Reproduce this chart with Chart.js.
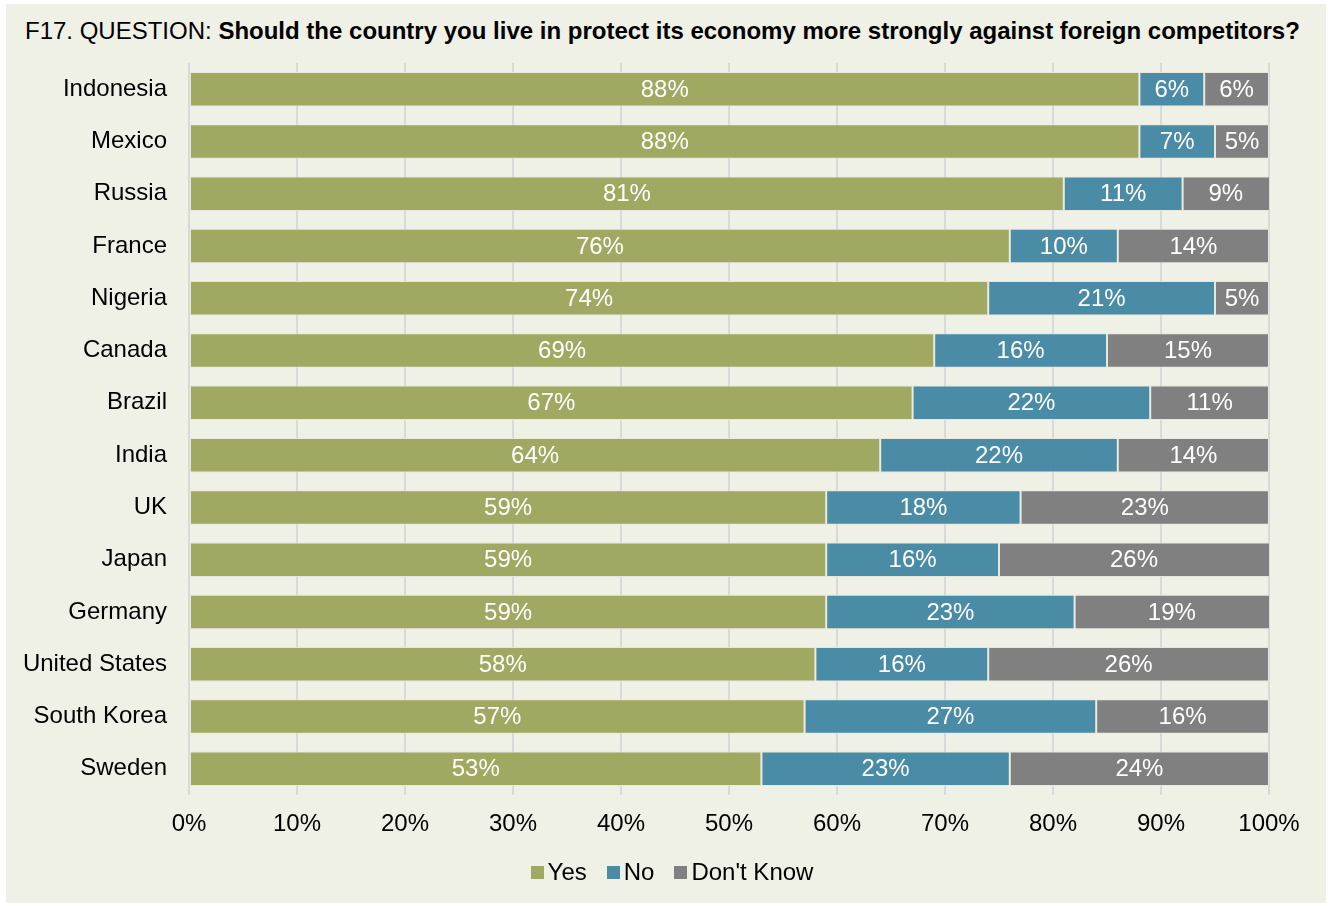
<!DOCTYPE html>
<html lang="en">
<head>
<meta charset="UTF-8">
<title>F17 - Protect economy against foreign competitors</title>
<script src="https://cdn.jsdelivr.net/npm/chart.js"></script>
<style>
  html, body { margin: 0; padding: 0; background: #ffffff; }
  body { width: 1332px; height: 906px; position: relative; overflow: hidden; font-family: "Liberation Sans", Arial, sans-serif; }
  .card { position: absolute; left: 6px; top: 4px; width: 1320px; height: 899px; background: #eff0e6; }
  .titulo { position: absolute; left: 19px; top: 13px; font-size: 24px; color: #000; white-space: nowrap; }
  .titulo b { font-weight: bold; }
  #grafico { position: absolute; left: 0; top: 0; }
  .leyenda { position: absolute; left: 12px; right: 0; top: 854px; text-align: center; font-size: 24px; color: #000; }
  .leyenda span { display: inline-block; margin: 0 10px; }
  .leyenda i { display: inline-block; width: 13px; height: 13px; margin-right: 4px; vertical-align: 1px; }
</style>
</head>
<body>
<div class="card">
  <div class="titulo">F17. QUESTION: <b>Should the country you live in protect its economy more strongly against foreign competitors?</b></div>
  <canvas id="grafico" width="1320" height="899"></canvas>
  <div class="leyenda" id="leyenda"></div>
</div>
<script>
const paises = ['Indonesia', 'Mexico', 'Russia', 'France', 'Nigeria', 'Canada', 'Brazil',
  'India', 'UK', 'Japan', 'Germany', 'United States', 'South Korea', 'Sweden'];
const si = [88, 88, 81, 76, 74, 69, 67, 64, 59, 59, 59, 58, 57, 53];
const no = [6, 7, 11, 10, 21, 16, 22, 22, 18, 16, 23, 16, 27, 23];
const noSabe = [6, 5, 9, 14, 5, 15, 11, 14, 23, 26, 19, 26, 16, 24];
const series = ['Yes', 'No', "Don't Know"];
const colores = ['#a1a862', '#4a8ba5', '#808080'];
const ticksX = [0, 10, 20, 30, 40, 50, 60, 70, 80, 90, 100];

const fuente = "'Liberation Sans', Arial, sans-serif";

// white percentage text centred in each segment
const etiquetas = {
  id: 'etiquetas',
  afterDatasetsDraw(chart) {
    const ctx = chart.ctx;
    const area = chart.chartArea;
    ctx.save();
    ctx.font = '24px ' + fuente;
    ctx.fillStyle = '#ffffff';
    ctx.textAlign = 'center';
    ctx.textBaseline = 'middle';
    chart.data.datasets.forEach((ds, i) => {
      chart.getDatasetMeta(i).data.forEach((bar, j) => {
        const x0 = Math.max(Math.min(bar.base, bar.x), area.left);
        const x1 = Math.min(Math.max(bar.base, bar.x), area.right);
        ctx.fillText(ds.data[j] + '%', (x0 + x1) / 2, bar.y + 1);
      });
    });
    ctx.restore();
  }
};

const datos = [si, no, noSabe];
new Chart(document.getElementById('grafico'), {
  type: 'bar',
  data: {
    labels: paises,
    datasets: datos.map((d, i) => ({
      label: series[i],
      data: d,
      backgroundColor: colores[i],
      borderColor: 'rgba(230, 232, 220, 0.9)',
      borderWidth: 1,
      borderSkipped: false,
      categoryPercentage: 0.66,
      barPercentage: 1
    }))
  },
  options: {
    indexAxis: 'y',
    responsive: false,
    animation: false,
    layout: { padding: { top: 59, right: 57, bottom: 0, left: 0 } },
    plugins: { legend: { display: false }, tooltip: { enabled: false } },
    scales: {
      x: {
        stacked: true,
        min: 0,
        max: 100,
        afterFit: (s) => { s.height = 108; },
        afterBuildTicks: (s) => { s.ticks = ticksX.map(v => ({ value: v })); },
        grid: { color: '#d9d9d9', lineWidth: 2, drawTicks: false },
        border: { display: false },
        ticks: { padding: 15, color: '#000', font: { family: fuente, size: 24 }, callback: v => v + '%' }
      },
      y: {
        stacked: true,
        afterFit: (s) => { s.width = 183; },
        grid: { display: false, drawTicks: false },
        border: { display: false },
        ticks: { padding: 22, color: '#000', font: { family: fuente, size: 24 } }
      }
    }
  },
  plugins: [etiquetas]
});

document.getElementById('leyenda').innerHTML = series
  .map((s, i) => `<span><i style="background:${colores[i]}"></i>${s}</span>`).join('');
</script>
</body>
</html>
